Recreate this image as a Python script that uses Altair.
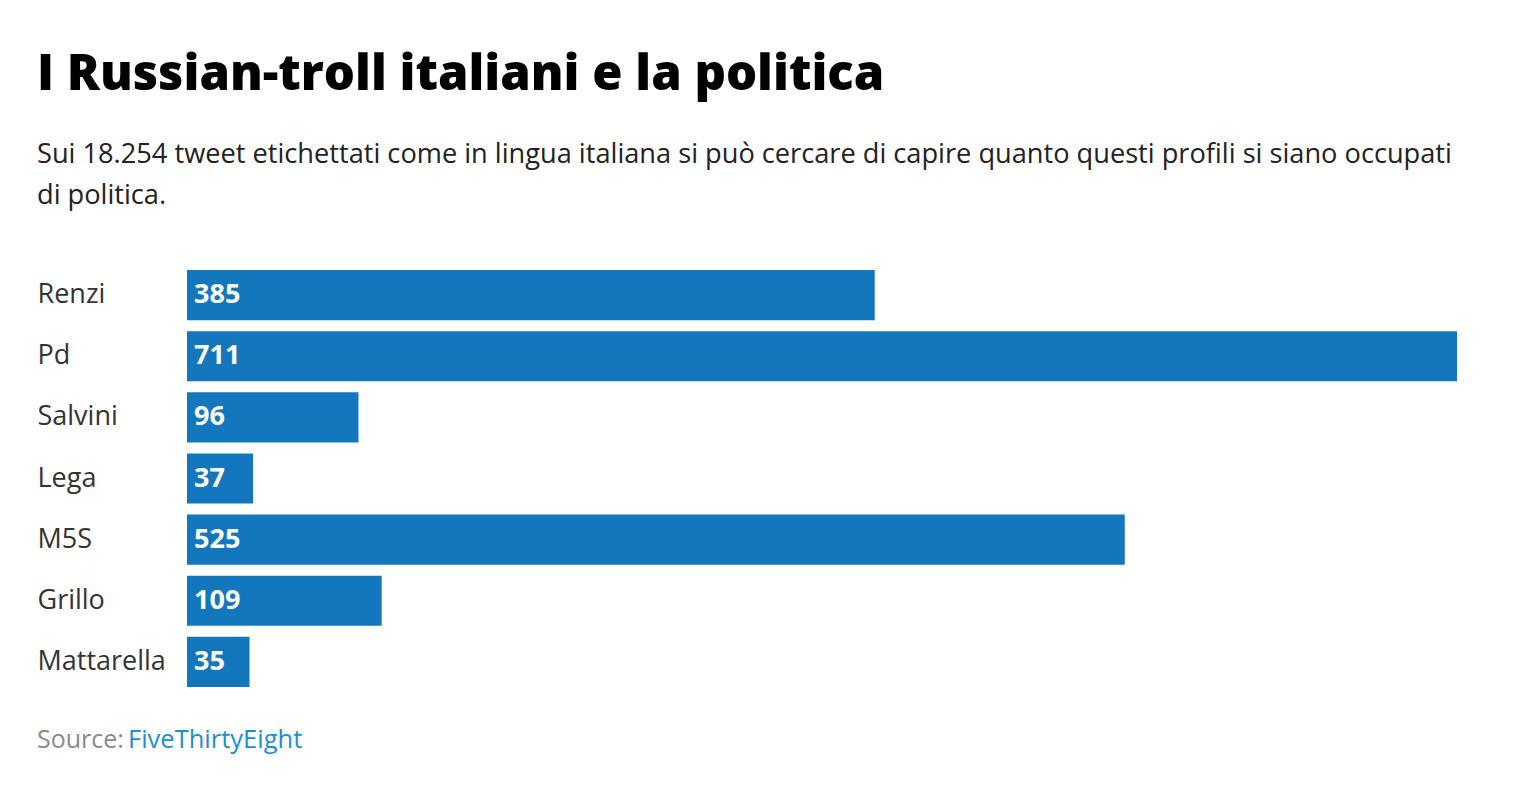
import altair as alt
import pandas as pd

categories = ["Renzi", "Pd", "Salvini", "Lega", "M5S", "Grillo", "Mattarella"]
values = [385, 711, 96, 37, 525, 109, 35]

title_text = "I Russian-troll italiani e la politica"
subtitle_lines = [
    "Sui 18.254 tweet etichettati come in lingua italiana si può cercare di capire quanto questi profili si siano occupati",
    "di politica.",
]
source_label = "Source:"
source_name = "FiveThirtyEight"

df = pd.DataFrame({"name": categories, "value": values})

FONT = "Open Sans"
BAR = "#1377bd"

y_enc = alt.Y(
    "name:N",
    sort=categories,
    scale=alt.Scale(paddingInner=0.18, paddingOuter=0),
    axis=alt.Axis(
        title=None, ticks=False, tickSize=0, domain=False, labelAlign="left",
        labelPadding=150, labelFontSize=27, labelFont=FONT, labelColor="#333333",
        labelBaseline="middle",
    ),
)
x_enc = alt.X("value:Q", scale=alt.Scale(domain=[0, 711], nice=False), axis=None)

bars = alt.Chart(df).mark_bar(color=BAR).encode(x=x_enc, y=y_enc)

labels = alt.Chart(df).mark_text(
    align="left", baseline="middle", dx=7, color="white", font=FONT,
    fontWeight="bold", fontSize=27,
).encode(x=alt.datum(0), y=alt.Y("name:N", sort=categories), text="value:Q")

src_df = pd.DataFrame({"a": [source_label], "b": [source_name]})
src1 = alt.Chart(src_df).mark_text(
    align="left", baseline="middle", font=FONT, fontSize=25, color="#8a8a8a"
).encode(x=alt.value(-150), y=alt.value(470), text="a:N")
src2 = alt.Chart(src_df).mark_text(
    align="left", baseline="middle", font=FONT, fontSize=25.5, color="#1b8fd6"
).encode(x=alt.value(-59), y=alt.value(470), text="b:N")

chart = (
    alt.layer(bars, labels, src1, src2)
    .properties(
        width=1270,
        height=417,
        title=alt.Title(
            text=title_text,
            subtitle=subtitle_lines,
            anchor="start",
            dx=0,
            offset=61,
            font=FONT,
            fontSize=49,
            fontWeight=800,
            color="#000000",
            subtitleFont=FONT,
            subtitleFontSize=27.2,
            subtitleColor="#222222",
            subtitleLineHeight=41,
            subtitlePadding=42,
        ),
        autosize=alt.AutoSizeParams(type="none"),
        padding={"left": 179, "top": 262, "right": 50, "bottom": 100},
    )
    .configure_view(stroke=None)
)

chart.save("out.html", embed_options={"renderer": "svg", "actions": False})
